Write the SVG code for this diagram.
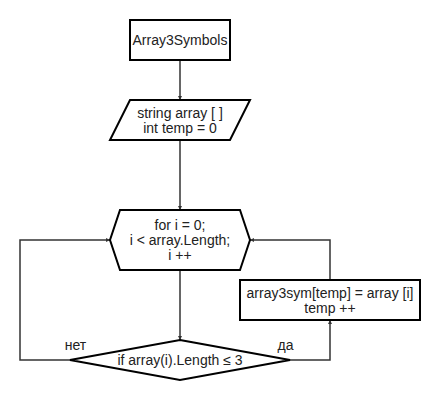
<svg xmlns="http://www.w3.org/2000/svg" width="440" height="400" viewBox="0 0 440 400">
<style>
.shape{fill:#fff;stroke:#000;stroke-width:2}
.edge{fill:none;stroke:#333;stroke-width:1.5}
text{font-family:"Liberation Sans",Arial,sans-serif;font-size:14px;fill:#222;text-anchor:middle}
</style>
<defs>
<marker id="arr" viewBox="0 0 6 6" refX="6" refY="3" markerWidth="4" markerHeight="4" orient="auto" markerUnits="userSpaceOnUse">
<path d="M0,0 L6,3 L0,6 z" fill="#333"/>
</marker>
</defs>
<rect width="440" height="400" fill="#fff"/>
<g id="connectors">
<path class="edge" d="M180,60 V100" marker-end="url(#arr)"/>
<path class="edge" d="M180,140 V210" marker-end="url(#arr)"/>
<path class="edge" d="M180,270 V340" marker-end="url(#arr)"/>
<path class="edge" d="M70,360 H20 V240 H110" marker-end="url(#arr)"/>
<path class="edge" d="M290,360 H330 V320" marker-end="url(#arr)"/>
<path class="edge" d="M330,280 V240 H250" marker-end="url(#arr)"/>
<text x="75.5" y="350">нет</text>
<text x="285.5" y="350">да</text>
</g>
<g id="start">
<rect class="shape" x="130" y="20" width="100" height="40"/>
<text x="180" y="45">Array3Symbols</text>
</g>
<g id="input">
<path class="shape" d="M130,100 H250 L230,140 H110 Z"/>
<text x="180" y="118">string array [ ]</text>
<text x="180" y="133">int temp = 0</text>
</g>
<g id="loop">
<path class="shape" d="M120,210 H240 L250,240 L240,270 H120 L110,240 Z"/>
<text x="180" y="229.5">for i = 0;</text>
<text x="180" y="244.5">i &lt; array.Length;</text>
<text x="180" y="259.5">i ++</text>
</g>
<g id="condition">
<path class="shape" d="M180,340 L290,360 L180,380 L70,360 Z"/>
<text x="180" y="365">if array(i).Length ≤ 3</text>
</g>
<g id="process">
<rect class="shape" x="240" y="280" width="180" height="40"/>
<text x="330" y="297.5">array3sym[temp] = array [i]</text>
<text x="330" y="312.5">temp ++</text>
</g>
</svg>
